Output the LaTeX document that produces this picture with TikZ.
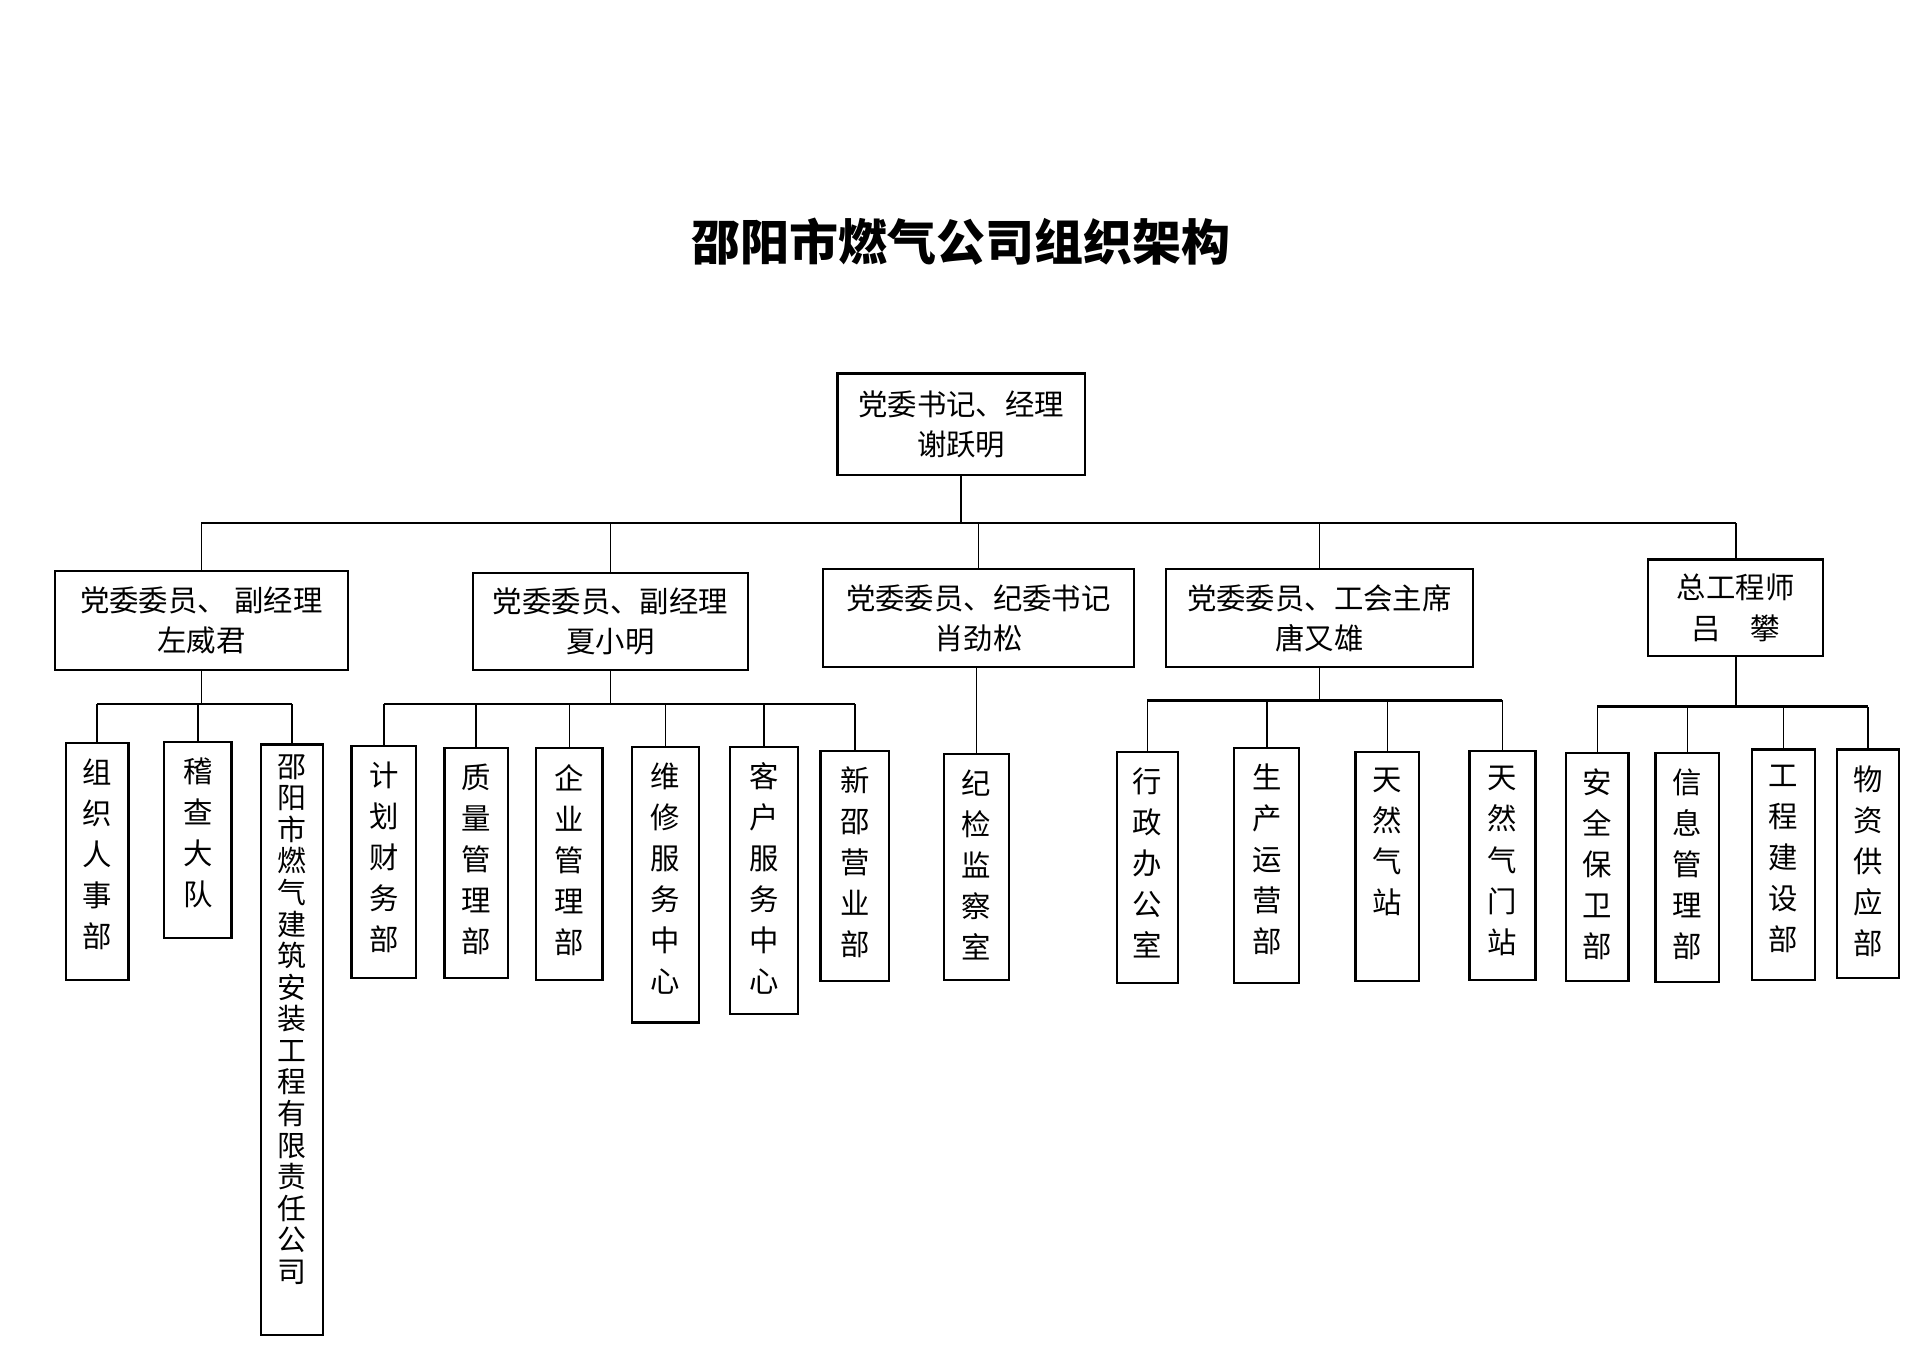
\documentclass[tikz,border=0pt]{standalone}
\usepackage{fontspec}
\setmainfont{Noto Sans CJK SC}
\usetikzlibrary{calc}
\newcommand{\ocbox}[7]{\node[#1, minimum width={(#5-#3)*0.5pt}, minimum height={(#6-#4)*0.5pt}] (#2) at ({(#3+#5)/2},{(#4+#6)/2}) {#7};}
% vertical, top-aligned text box: style, name, x1, y1, x2, y2, top gap, text
\newcommand{\vtbox}[8]{\node[#1, minimum width={(#5-#3)*0.5pt}] (#2) at ({(#3+#5)/2},{(#4+#6)/2}) {\parbox[c][\dimexpr #6pt/2-#4pt/2\relax][t]{14pt}{\centering\vspace*{#7}#8\par}};}
\begin{document}
\begin{tikzpicture}[x=0.5pt,y=-0.5pt,
  box/.style={draw, line width=0.9pt, inner sep=0pt, align=center, font=\fontsize{12pt}{16.5pt}\selectfont},
  vbox/.style={draw, line width=0.9pt, inner sep=0pt, font=\fontsize{12pt}{16.75pt}\selectfont},
  vboxtight/.style={vbox, font=\fontsize{11.8pt}{12.9pt}\selectfont},
  conn/.style={line width=0.7pt},
  busline/.style={line width=1.1pt},
  titlestyle/.style={font=\fontsize{20pt}{24pt}\selectfont\bfseries, inner sep=0pt}]
\fill[white] (0,0) rectangle (1568,1108);
\useasboundingbox (0,0) rectangle (1568,1108);

\node[titlestyle] (title) at (785,197) {邵阳市燃气公司组织架构};

\ocbox{box}{top}{684}{305}{886}{388}{党委书记、经理\\谢跃明}
\ocbox{box}{b1}{45}{466}{284}{547}{党委委员、\hspace{3pt}副经理\\左威君}
\ocbox{box}{b2}{386}{468}{611}{547}{党委委员、副经理\\夏小明}
\ocbox{box}{b3}{672}{465}{926}{545}{党委委员、纪委书记\\肖劲松}
\ocbox{box}{b4}{952}{465}{1203}{545}{党委委员、工会主席\\唐又雄}
\ocbox{box}{b5}{1346}{457}{1489}{536}{总工程师\\吕　攀}

\vtbox{vbox}{c11}{54}{607}{105}{800}{6.5pt}{组\\织\\人\\事\\部}
\vtbox{vbox}{c12}{134}{606}{189}{766}{6.5pt}{稽\\查\\大\\队}
\vtbox{vboxtight}{c13}{213}{608}{264}{1090}{4pt}{邵\\阳\\市\\燃\\气\\建\\筑\\安\\装\\工\\程\\有\\限\\责\\任\\公\\司}
\vtbox{vbox}{c21}{287}{609}{340}{799}{6.5pt}{计\\划\\财\\务\\部}
\vtbox{vbox}{c22}{363}{611}{415}{799}{6.5pt}{质\\量\\管\\理\\部}
\vtbox{vbox}{c23}{438}{611}{492}{800}{6.5pt}{企\\业\\管\\理\\部}
\vtbox{vbox}{c24}{516}{610}{571}{835}{6.5pt}{维\\修\\服\\务\\中\\心}
\vtbox{vbox}{c25}{596}{610}{652}{828}{6.5pt}{客\\户\\服\\务\\中\\心}
\vtbox{vbox}{c26}{670}{613}{726}{801}{6.5pt}{新\\邵\\营\\业\\部}
\vtbox{vbox}{c31}{771}{616}{824}{800}{6.5pt}{纪\\检\\监\\察\\室}
\vtbox{vbox}{c41}{912}{614}{962}{803}{6.5pt}{行\\政\\办\\公\\室}
\vtbox{vbox}{c42}{1008}{611}{1061}{803}{6.5pt}{生\\产\\运\\营\\部}
\vtbox{vbox}{c43}{1107}{614}{1159}{801}{6.5pt}{天\\然\\气\\站}
\vtbox{vbox}{c44}{1200}{613}{1254}{800}{6.5pt}{天\\然\\气\\门\\站}
\vtbox{vbox}{c51}{1279}{615}{1330}{801}{6.5pt}{安\\全\\保\\卫\\部}
\vtbox{vbox}{c52}{1352}{615}{1404}{802}{6.5pt}{信\\息\\管\\理\\部}
\vtbox{vbox}{c53}{1431}{612}{1482}{800}{6.5pt}{工\\程\\建\\设\\部}
\vtbox{vbox}{c54}{1500}{612}{1551}{799}{6.5pt}{物\\资\\供\\应\\部}

% main bus
\coordinate (bus) at (0,427);
\draw[busline] (b1.north |- bus) -- (b5.north |- bus);
\draw[conn] (top.south) -- (top.south |- bus);
\foreach \b in {b1,b2,b3,b4,b5} \draw[conn] (\b.north) -- (\b.north |- bus);

% sub buses
\coordinate (s1) at (0,575);
\coordinate (s2) at (0,575);
\coordinate (s4) at (0,572);
\coordinate (s5) at (0,577);
\draw[busline] (c11.north |- s1) -- (c13.north |- s1);
\draw[conn] (b1.south) -- (b1.south |- s1);
\foreach \c in {c11,c12,c13} \draw[conn] (\c.north) -- (\c.north |- s1);

\draw[busline] (c21.north |- s2) -- (c26.north |- s2);
\draw[conn] (b2.south) -- (b2.south |- s2);
\foreach \c in {c21,c22,c23,c24,c25,c26} \draw[conn] (\c.north) -- (\c.north |- s2);

\draw[conn] (c31.north) -- (c31.north |- b3.south);

\draw[busline] (c41.north |- s4) -- (c44.north |- s4);
\draw[conn] (b4.south) -- (b4.south |- s4);
\foreach \c in {c41,c42,c43,c44} \draw[conn] (\c.north) -- (\c.north |- s4);

\draw[busline] (c51.north |- s5) -- (c54.north |- s5);
\draw[conn] (b5.south) -- (b5.south |- s5);
\foreach \c in {c51,c52,c53,c54} \draw[conn] (\c.north) -- (\c.north |- s5);
\end{tikzpicture}
\end{document}
